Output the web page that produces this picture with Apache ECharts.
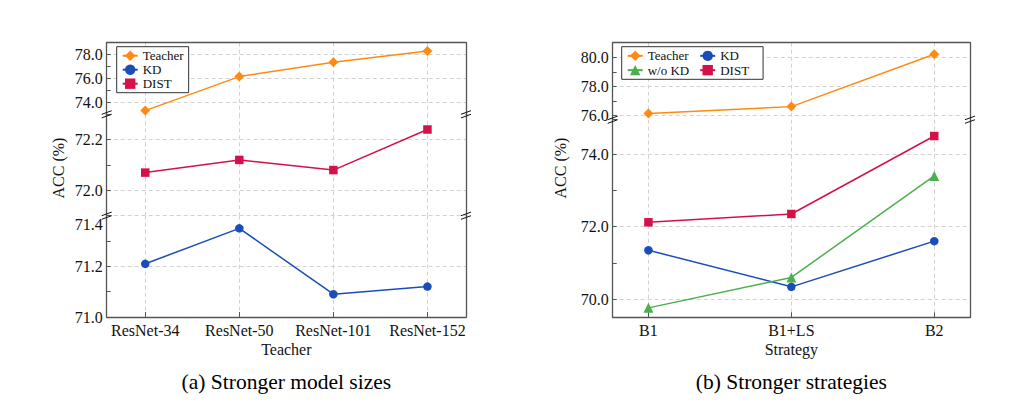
<!DOCTYPE html>
<html><head><meta charset="utf-8">
<script src="https://cdn.jsdelivr.net/npm/echarts@6/dist/echarts.min.js"></script>
<style>html,body{margin:0;padding:0;background:#fff}#c{width:1029px;height:406px}</style>
</head><body><div id="c"></div>
<script>
// ---------- data ----------
const sizeCategories = ['ResNet-34', 'ResNet-50', 'ResNet-101', 'ResNet-152'];
const sizeTeacher = [73.31, 76.16, 77.37, 78.31];
const sizeKD = [71.21, 71.35, 71.09, 71.12];
const sizeDIST = [72.07, 72.12, 72.08, 72.24];

const strategyCategories = ['B1', 'B1+LS', 'B2'];
const stratTeacher = [76.13, 76.6, 80.2];
const stratKD = [71.35, 70.34, 71.6];
const stratWoKD = [69.76, 70.6, 73.4];
const stratDIST = [72.12, 72.35, 74.5];

const sizeTopTicks = [74, 76, 78];
const sizeMidTicks = [72.0, 72.2];
const sizeLowTicks = [71.0, 71.2, 71.4];
const stratTopTicks = [76, 78, 80];
const stratLowTicks = [70, 72, 74];

// ---------- style ----------
const FONT = 'Liberation Serif';
const G = '#d2d2d2';
const T = 'rgba(0,0,0,0)';
const AXIS = '#555';
const COL = { teacher: '#ff8a12', kd: '#1a4db8', dist: '#d4124a', wokd: '#4dae4d' };

const chart = echarts.init(document.getElementById('c'), null, { renderer: 'svg' });

const grids = [
  { left: 106.7, width: 359.3, top: 42.7, height: 71.6 },
  { left: 106.7, width: 359.3, top: 114.3, height: 101.4 },
  { left: 106.7, width: 359.3, top: 215.7, height: 101.3 },
  { left: 612.7, width: 357.3, top: 42.7, height: 77.0 },
  { left: 612.7, width: 357.3, top: 119.7, height: 197.6 }
].map(g => Object.assign({ containLabel: false, outerBoundsMode: 'none' }, g));

function pair(arr) { return arr.map((v, i) => [i, v]); }

function xAxisFor(gridIndex, cats, min, max, role, name) {
  const splitColors = [T].concat(cats.map(() => G)).concat([T]);
  return {
    type: 'value', gridIndex, min, max, minInterval: 1, maxInterval: 1,
    position: role === 'top' ? 'top' : 'bottom',
    axisLine: { show: role !== 'mid', onZero: false, lineStyle: { color: AXIS, width: 1.3 } },
    axisTick: { show: role === 'bottom', inside: true, length: 5, lineStyle: { color: AXIS } },
    axisLabel: {
      show: role === 'bottom', margin: 5, fontFamily: FONT, fontSize: 16, color: '#111',
      formatter: v => (Number.isInteger(v) && cats[v] !== undefined) ? cats[v] : ''
    },
    splitLine: { show: true, lineStyle: { color: splitColors, type: [4, 3], width: 1 } },
    name: role === 'bottom' ? name : '',
    nameLocation: 'middle', nameGap: 24,
    nameTextStyle: { fontFamily: FONT, fontSize: 16, color: '#111' }
  };
}

// invisible axis that only carries a sub-figure caption under a panel
function captionAxis(gridIndex, min, max, caption) {
  return {
    type: 'value', gridIndex, min, max, position: 'bottom',
    axisLine: { show: false, onZero: false }, axisTick: { show: false },
    axisLabel: { show: false }, splitLine: { show: false },
    name: caption, nameLocation: 'middle', nameGap: 54,
    nameTextStyle: { fontFamily: FONT, fontSize: 21.5, color: '#000' }
  };
}

function yAxisFor(gridIndex, min, max, labels, splitColors, extra) {
  return Object.assign({
    type: 'value', gridIndex, min, max, position: 'left',
    axisLine: { show: true, onZero: false, lineStyle: { color: AXIS, width: 1.3 } },
    axisTick: { show: true, inside: true, length: 4, lineStyle: { color: AXIS } },
    axisLabel: {
      margin: 4, fontFamily: FONT, fontSize: 16, color: '#111',
      formatter: v => labels.some(t => Math.abs(t - v) < 1e-6) ? v.toFixed(1) : ''
    },
    splitLine: { show: true, lineStyle: { color: splitColors, type: [4, 3], width: 1 } }
  }, extra || {});
}

function borderAxis(gridIndex, min, max) {
  return {
    type: 'value', gridIndex, min, max, position: 'right',
    axisLine: { show: true, onZero: false, lineStyle: { color: AXIS, width: 1.3 } },
    axisTick: { show: false }, axisLabel: { show: false }, splitLine: { show: false }
  };
}

const yRanges = [[73, 79], [71.9, 72.3], [71.0, 71.4], [75.7, 81], [69.5, 74.95]];

const yAxes = [
  yAxisFor(0, 73, 79, sizeTopTicks, [T, G], { interval: 1 }),
  yAxisFor(1, 71.9, 72.3, sizeMidTicks, [T, G], { interval: 0.1 }),
  yAxisFor(2, 71.0, 71.4, sizeLowTicks, [G, T], { interval: 0.1 }),
  yAxisFor(3, 75.7, 81, stratTopTicks, [T, G], { minInterval: 1, maxInterval: 1 }),
  yAxisFor(4, 69.5, 74.95, stratLowTicks, [T, G], { minInterval: 1, maxInterval: 1 })
];
// shift the top label of the lowest left segment below the break, as in the reference
yAxes[2].axisLabel.formatter = v => {
  if (!sizeLowTicks.some(t => Math.abs(t - v) < 1e-6)) return '';
  return Math.abs(v - 71.4) < 1e-6 ? '{s|' + v.toFixed(1) + '}' : v.toFixed(1);
};
yAxes[2].axisLabel.rich = { s: { padding: [18, 0, 0, 0], fontFamily: FONT, fontSize: 16, color: '#111' } };
yRanges.forEach((r, i) => yAxes.push(borderAxis(i, r[0], r[1])));

const xAxes = [
  xAxisFor(0, sizeCategories, -0.41, 3.41, 'top'),
  xAxisFor(1, sizeCategories, -0.41, 3.41, 'mid'),
  xAxisFor(2, sizeCategories, -0.41, 3.41, 'bottom', 'Teacher'),
  xAxisFor(3, strategyCategories, -0.25, 2.25, 'top'),
  xAxisFor(4, strategyCategories, -0.25, 2.25, 'bottom', 'Strategy'),
  captionAxis(2, -0.41, 3.41, '(a) Stronger model sizes'),
  captionAxis(4, -0.25, 2.25, '(b) Stronger strategies')
];

function line(name, data, idx, color, symbol, size) {
  return {
    type: 'line', name, data: pair(data), xAxisIndex: idx, yAxisIndex: idx,
    symbol, symbolSize: size, showAllSymbol: true, animation: false,
    lineStyle: { color, width: 1.5 }, itemStyle: { color }
  };
}

const legendText = { fontFamily: FONT, fontSize: 13, color: '#111', lineHeight: 14 };

chart.setOption({
  animation: false,
  backgroundColor: '#fff',
  grid: grids,
  xAxis: xAxes,
  yAxis: yAxes,
  legend: [
    {
      orient: 'vertical', left: 116.7, top: 46.7, padding: [2, 5, 2, 5], itemGap: 0,
      itemWidth: 15, itemHeight: 13, backgroundColor: '#fff', borderColor: '#333', borderWidth: 1,
      textStyle: legendText, data: ['Teacher', 'KD', 'DIST'], selectedMode: false
    },
    {
      orient: 'horizontal', left: 621.7, top: 46.7, width: 132, padding: [2, 14, 2, 5], itemGap: 0,
      itemWidth: 15, itemHeight: 13, backgroundColor: '#fff', borderColor: '#333', borderWidth: 1,
      textStyle: Object.assign({}, legendText, { lineHeight: 14.3 }), selectedMode: false,
      data: [
        { name: 'Teacher', textStyle: { width: 51.5 } }, 'KD',
        { name: 'w/o KD', textStyle: { width: 51.5 } }, 'DIST'
      ]
    }
  ],
  series: [
    line('Teacher', sizeTeacher, 0, COL.teacher, 'diamond', 10),
    line('DIST', sizeDIST, 1, COL.dist, 'rect', 8.5),
    line('KD', sizeKD, 2, COL.kd, 'circle', 8.5),
    line('Teacher', stratTeacher, 3, COL.teacher, 'diamond', 10),
    line('KD', stratKD, 4, COL.kd, 'circle', 8.5),
    line('w/o KD', stratWoKD, 4, COL.wokd, 'triangle', 10),
    line('DIST', stratDIST, 4, COL.dist, 'rect', 8.5)
  ]
});

// decorations: break marks and rotated axis titles
function breakMark(x, y) {
  const kids = [-1.8, 1.8].map(d => ({
    type: 'line', shape: { x1: x - 5, y1: y + d + 1.8, x2: x + 5, y2: y + d - 1.8 },
    style: { stroke: '#111', lineWidth: 1 }, z: 100
  }));
  return { type: 'group', children: kids };
}
const breaks = [[0, -0.41, 3.41], [1, -0.41, 3.41], [3, -0.25, 2.25]];
const graphics = [];
breaks.forEach(([gi, xmin, xmax]) => {
  const ymin = yRanges[gi][0];
  const pL = chart.convertToPixel({ gridIndex: gi }, [xmin, ymin]);
  const pR = chart.convertToPixel({ gridIndex: gi }, [xmax, ymin]);
  graphics.push(breakMark(pL[0], pL[1]), breakMark(pR[0], pR[1]));
});
const accStyle = { text: 'ACC (%)', fontFamily: FONT, fontSize: 16, fill: '#111', align: 'center', verticalAlign: 'middle' };
graphics.push({ type: 'text', x: 58.5, y: 168, rotation: Math.PI / 2, style: accStyle });
graphics.push({ type: 'text', x: 560.5, y: 168, rotation: Math.PI / 2, style: accStyle });
chart.setOption({ graphic: graphics });
</script></body></html>
